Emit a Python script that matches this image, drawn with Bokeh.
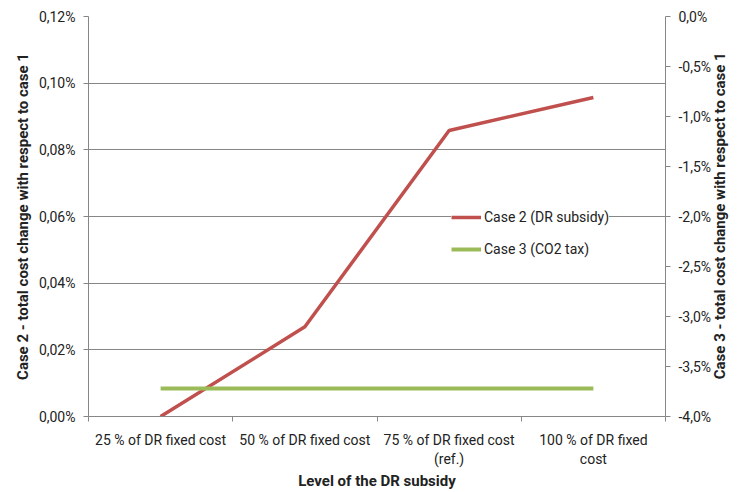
import math
from bokeh.plotting import figure
from bokeh.models import (LinearAxis, Range1d, FixedTicker, CustomJSTickFormatter,
                          Legend, LegendItem)
from bokeh.embed import file_html
from bokeh.resources import INLINE

# data
categories = ["25 % of DR fixed cost", "50 % of DR fixed cost",
              "75 % of DR fixed cost\n(ref.)", "100 % of DR fixed\ncost"]
case2 = [0.0000, 0.0269, 0.0858, 0.0957]   # % , left axis
case3 = [-3.72, -3.72, -3.72, -3.72]       # % , right axis
left_ticks = [0.00, 0.02, 0.04, 0.06, 0.08, 0.10, 0.12]
right_ticks = [-4.0, -3.5, -3.0, -2.5, -2.0, -1.5, -1.0, -0.5, 0.0]

FONT = "Roboto"
GRAY = "#868686"
TXT = "#222222"

# categories sit in the middle of each slot, ticks on the slot borders
xs = [i + 0.5 for i in range(len(categories))]

p = figure(width=741, height=492, output_backend="svg", toolbar_location=None,
           x_range=Range1d(0, len(categories)), y_range=Range1d(0, 0.12),
           min_border_left=88, min_border_right=74, min_border_top=16,
           min_border_bottom=75)
p.extra_y_ranges = {"case3": Range1d(-4.0, 0.0)}
p.outline_line_color = None
p.background_fill_color = "white"
p.xgrid.visible = False
p.ygrid.grid_line_color = GRAY
p.ygrid.ticker = FixedTicker(ticks=left_ticks)

r2 = p.line(xs, case2, line_color="#C0504D", line_width=3.5)
r3 = p.line(xs, case3, line_color="#9BBB59", line_width=4, y_range_name="case3")

# bottom axis
xa = p.xaxis[0]
xa.ticker = FixedTicker(ticks=xs, minor_ticks=list(range(len(categories) + 1)))
xa.major_label_overrides = {x: c for x, c in zip(xs, categories)}
xa.axis_label = "Level of the DR subsidy"

# left axis
ya = p.yaxis[0]
ya.ticker = FixedTicker(ticks=left_ticks)
ya.formatter = CustomJSTickFormatter(code="return tick.toFixed(2).replace('.', ',') + '%';")
ya.axis_label = "Case 2 - total cost change with respect to case 1"

# right axis; non-breaking spaces lift the title off the bottom end
ra = LinearAxis(y_range_name="case3", ticker=FixedTicker(ticks=right_ticks),
                formatter=CustomJSTickFormatter(code="return tick.toFixed(1).replace('.', ',') + '%';"),
                axis_label="\u00a0" * 10 + "Case 3 - total cost change with respect to case 1")
p.add_layout(ra, "right")

for ax in [xa, ya, ra]:
    ax.axis_line_color = GRAY
    ax.major_tick_line_color = GRAY
    ax.minor_tick_line_color = GRAY
    ax.major_label_text_font = FONT
    ax.major_label_text_font_size = "14px"
    ax.major_label_text_color = TXT
    ax.axis_label_text_font = FONT
    ax.axis_label_text_font_size = "15px"
    ax.axis_label_text_font_style = "bold"
    ax.axis_label_text_color = TXT
    ax.axis_label_standoff = 4

for ax in [ya, ra]:
    ax.major_tick_out = 5
    ax.major_tick_in = 0
    ax.minor_tick_out = 0
    ax.minor_tick_in = 0
    ax.major_label_standoff = 8

xa.major_tick_out = 0
xa.major_tick_in = 0
xa.minor_tick_out = 5
xa.minor_tick_in = 0
xa.major_label_standoff = 10
xa.axis_label_standoff = 2
# read bottom-to-top like the left title, starting from the bottom end
ra.axis_label_orientation = math.pi / 2
ra.axis_label_align = "start"
ra.axis_label_standoff = 6

legend = Legend(items=[LegendItem(label="Case 2 (DR subsidy)", renderers=[r2]),
                       LegendItem(label="Case 3 (CO2 tax)", renderers=[r3])],
                location=(363, 157), padding=20, spacing=12, margin=0,
                glyph_width=30, label_standoff=3, label_height=20,
                label_text_font=FONT, label_text_font_size="14px",
                label_text_color=TXT, border_line_color=None,
                background_fill_color="white", background_fill_alpha=1.0)
p.add_layout(legend, "center")

open("out.html", "w").write(file_html(p, INLINE))
